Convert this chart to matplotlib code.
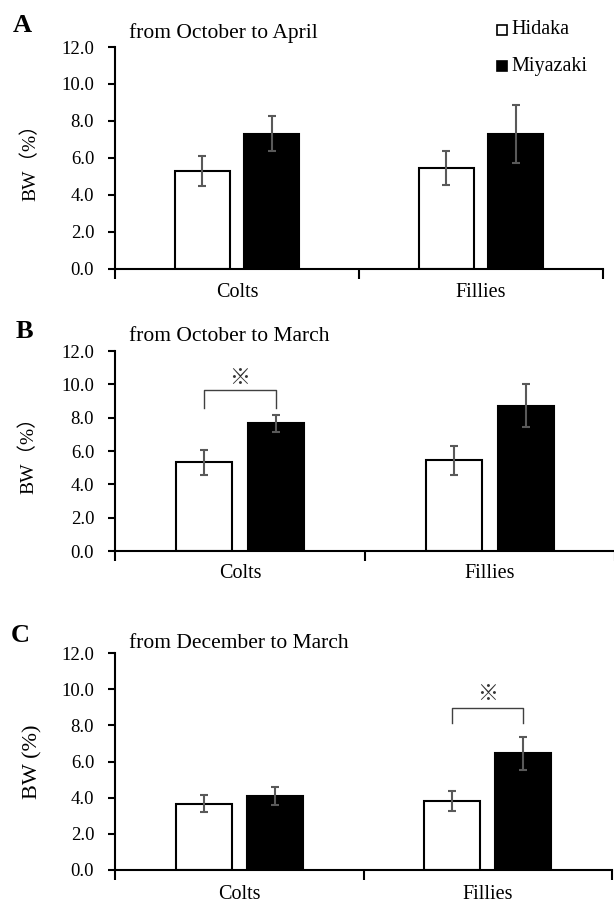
import matplotlib
matplotlib.use("Agg")
import matplotlib.pyplot as plt
from matplotlib.patches import Rectangle
import numpy as np

plt.rcParams['font.family'] = ['Liberation Serif', 'Noto Sans CJK JP']

categories = ["Colts", "Fillies"]
groups = ["Hidaka", "Miyazaki"]

titles = ["from October to April", "from October to March", "from December to March"]
letters = ["A", "B", "C"]
ylabels = ["BW（%）", "BW（%）", "BW (%)"]

# panel A
a_hidaka = [5.28, 5.45]
a_hidaka_err = [0.83, 0.94]
a_miyazaki = [7.30, 7.30]
a_miyazaki_err = [0.95, 1.57]
# panel B
b_hidaka = [5.32, 5.44]
b_hidaka_err = [0.74, 0.86]
b_miyazaki = [7.67, 8.72]
b_miyazaki_err = [0.50, 1.29]
# panel C
c_hidaka = [3.67, 3.82]
c_hidaka_err = [0.45, 0.56]
c_miyazaki = [4.07, 6.45]
c_miyazaki_err = [0.50, 0.91]

yticks = [0, 2, 4, 6, 8, 10, 12]

# significance brackets: (category index, top y, leg bottom y, symbol y) or None
sig = [None, (0, 9.68, 8.6, 10.38), (1, 8.98, 8.15, 9.72)]

panels = [
    (a_hidaka, a_hidaka_err, a_miyazaki, a_miyazaki_err),
    (b_hidaka, b_hidaka_err, b_miyazaki, b_miyazaki_err),
    (c_hidaka, c_hidaka_err, c_miyazaki, c_miyazaki_err),
]

W, H = 614, 899
fig = plt.figure(figsize=(W / 100, H / 100), dpi=100)

# axes boxes in pixels: left, right, top, bottom
boxes = [(115, 603, 47, 268.5), (115, 615, 351, 551), (115, 612, 653, 870)]
title_y = [33.5, 336.5, 643.5]
letter_pos = [(13, 25), (16, 331), (11, 635)]
ylab_x = [40, 38, 42]
ylab_size = [14, 14, 16]
xpad = [10.5, 9, 10.5]

bw = 0.225
off = 0.143
err_color = "#595959"

for i, (hid, hid_e, miy, miy_e) in enumerate(panels):
    l, r, t, b = boxes[i]
    ax = fig.add_axes([l / W, 1 - b / H, (r - l) / W, (b - t) / H])
    x = np.arange(len(categories))
    ax.bar(x - off, hid, bw, color="white", edgecolor="black", linewidth=1.5, zorder=2)
    ax.bar(x + off, miy, bw, color="black", edgecolor="black", linewidth=1.5, zorder=2)
    ax.errorbar(x - off, hid, yerr=hid_e, fmt="none", ecolor=err_color, elinewidth=1.5,
                capsize=2.8, capthick=1.5, zorder=3)
    ax.errorbar(x + off, miy, yerr=miy_e, fmt="none", ecolor=err_color, elinewidth=1.5,
                capsize=2.8, capthick=1.5, zorder=3)
    ax.set_xlim(-0.5, 1.5)
    ax.set_ylim(0, 12)
    ax.set_yticks(yticks)
    ax.set_yticklabels([f"{v:.1f}" for v in yticks], fontsize=13.5)
    ax.set_xticks(x)
    ax.set_xticklabels(categories, fontsize=14.5)
    ax.set_xticks([-0.5, 0.5, 1.5], minor=True)
    ax.tick_params(axis="x", which="major", length=0, pad=xpad[i])
    ax.tick_params(axis="x", which="minor", length=7, width=1.5, direction="out")
    ax.tick_params(axis="y", length=5, width=1.5, direction="out", pad=10)
    for s in ["top", "right"]:
        ax.spines[s].set_visible(False)
    for s in ["left", "bottom"]:
        ax.spines[s].set_linewidth(1.5)
    ax.spines["bottom"].set_zorder(4)
    ax.set_ylabel(ylabels[i], fontsize=ylab_size[i])
    ax.yaxis.set_label_coords((ylab_x[i] - l) / (r - l), 0.5)

    fig.text(129 / W, 1 - title_y[i] / H, titles[i], fontsize=15.5, va="center", ha="left")
    fig.text(letter_pos[i][0] / W, 1 - letter_pos[i][1] / H, letters[i], fontsize=19,
             fontweight="bold", va="center", ha="left")

    if sig[i] is not None:
        ci, ytop, ybot, ysym = sig[i]
        x0 = ci - off
        x1 = ci + off
        ax.plot([x0, x0, x1, x1], [ybot, ytop, ytop, ybot], color="#404040", lw=1.0,
                solid_joinstyle="round", zorder=3)
        ax.text(ci, ysym, "※", ha="center", va="center", fontsize=15,
                family=["Noto Sans CJK JP"], color="#333333")

    if i == 0:
        for name, fc, yy in [(groups[0], "white", 30), (groups[1], "black", 66)]:
            fig.patches.append(Rectangle((497 / W, 1 - (yy + 5) / H), 10 / W, 10 / H,
                                         facecolor=fc, edgecolor="black", lw=1.2,
                                         transform=fig.transFigure, figure=fig))
            fig.text(511 / W, 1 - yy / H, name, fontsize=14.5, va="center", ha="left")

fig.savefig("out.png", dpi=100)
